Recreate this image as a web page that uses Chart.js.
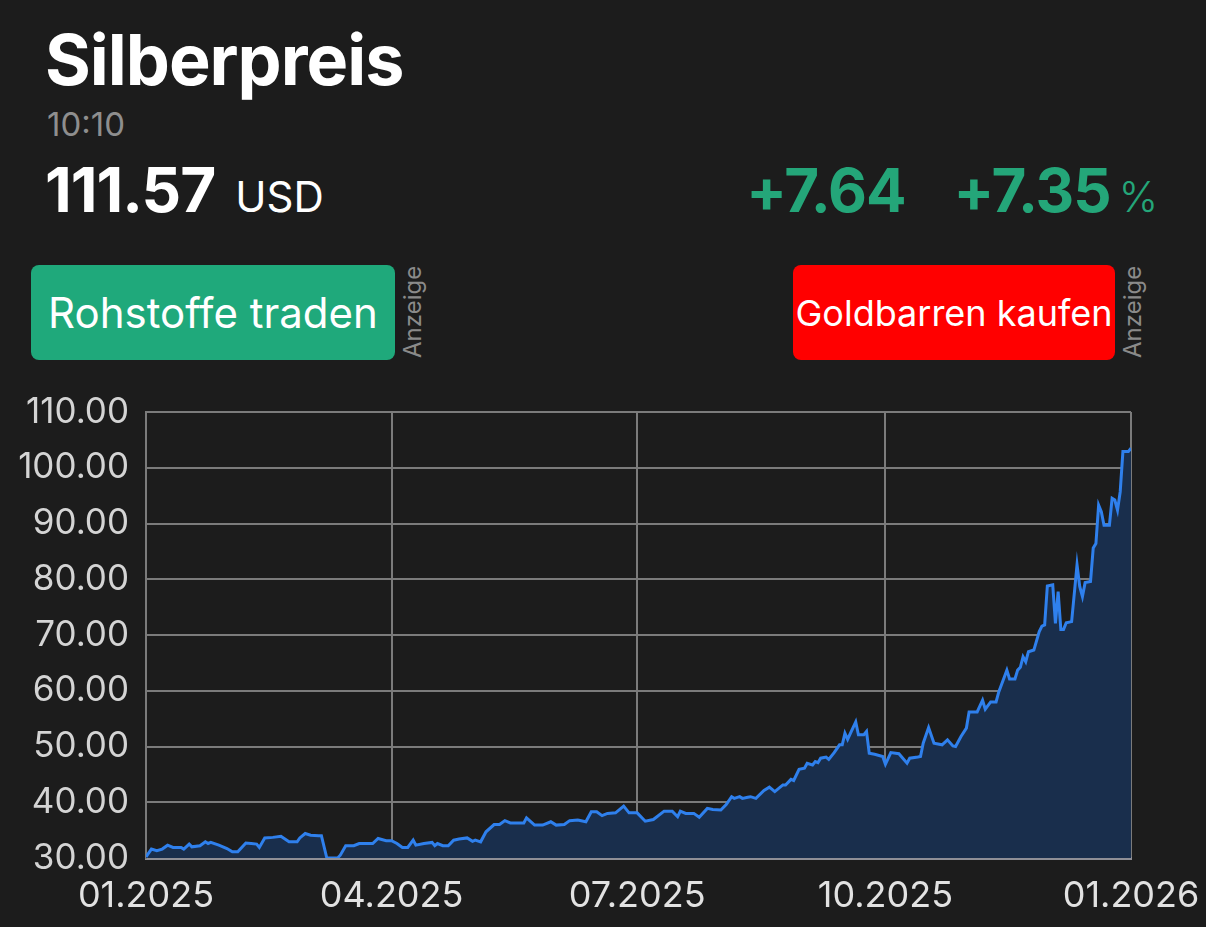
<!DOCTYPE html>
<html>
<head>
<meta charset="utf-8">
<script src="https://cdn.jsdelivr.net/npm/chart.js@4.4.1/dist/chart.umd.min.js"></script>
<style>
    body {
        margin: 0;
        width: 1206px;
        height: 927px;
        overflow: hidden;
        background: #1c1c1c;
        font-family: Inter, "Noto Sans", sans-serif;
        color: #fff;
        position: relative;
    }
    .abs { position: absolute; line-height: 1; white-space: nowrap; }
    #title { left: 45px; top: 25px; font-size: 70px; font-weight: 700; letter-spacing: -1px; }
    #time { left: 47px; top: 108px; font-size: 33px; color: #8e8e8e; }
    #price { left: 45px; top: 159px; font-size: 62px; font-weight: 700; letter-spacing: -1px; }
    #price .unit { font-size: 42px; font-weight: 400; margin-left: 20px; letter-spacing: 0; }
    #change { right: 48px; top: 160px; font-size: 60px; font-weight: 700; color: #24a679; letter-spacing: -1px; }
    #change .pct { font-size: 42px; font-weight: 300; margin-left: 8px; letter-spacing: 0; }
    #change .gap { margin-left: 48px; }
    .btn {
        position: absolute;
        top: 265px;
        height: 95px;
        border-radius: 8px;
        display: flex;
        align-items: center;
        justify-content: center;
        color: #fff;
        white-space: nowrap;
    }
    #btnTrade { left: 31px; width: 364px; background: #1fa97b; font-size: 42px; }
    #btnGold { left: 793px; width: 322px; background: #ff0000; font-size: 36px; }
    .ad {
        position: absolute;
        top: 262px;
        height: 96px;
        writing-mode: vertical-rl;
        transform: rotate(180deg);
        font-size: 24px;
        color: #8a8a8a;
        text-align: left;
    }
    #chartBox { position: absolute; left: 0; top: 380px; width: 1206px; height: 547px; }
</style>
</head>
<body>
<div id="title" class="abs">Silberpreis</div>
<div id="time" class="abs">10:10</div>
<div id="price" class="abs">111.57<span class="unit">USD</span></div>
<div id="change" class="abs">+7.64<span class="gap">+7.35</span><span class="pct">%</span></div>
<div id="btnTrade" class="btn">Rohstoffe traden</div>
<div class="ad" style="left:398px;">Anzeige</div>
<div id="btnGold" class="btn">Goldbarren kaufen</div>
<div class="ad" style="left:1118px;">Anzeige</div>
<div id="chartBox"><canvas id="silverChart" width="1206" height="547"></canvas></div>

<script>
// Day offsets from 01.01.2025 and silver price in USD
const days = [0, 2, 4, 6, 8, 10, 13, 14, 16, 17, 20, 22, 23, 24, 27, 30, 32, 34, 37, 39,
    41, 42, 44, 47, 50, 53, 56, 57, 59, 61, 64, 65, 67, 69, 71, 72, 74, 77, 79, 84,
    86, 89, 91, 93, 95, 97, 99, 100, 103, 106, 107, 108, 110, 112, 114, 116, 119, 121, 122, 124,
    126, 129, 131, 133, 135, 140, 141, 144, 147, 150, 152, 155, 157, 160, 163, 165, 167, 169, 171, 174,
    177, 179, 182, 185, 188, 192, 195, 197, 198, 200, 203, 205, 208, 210, 213, 215, 217, 218, 220, 221,
    223, 224, 226, 229, 231, 233, 236, 237, 239, 240, 242, 244, 245, 247, 248, 249, 250, 252, 253, 255,
    257, 258, 259, 260, 263, 264, 266, 267, 268, 270, 273, 274, 276, 279, 282, 283, 286, 287, 288, 290,
    292, 295, 297, 299, 300, 302, 304, 305, 308, 310, 311, 313, 315, 316, 319, 320, 322, 323, 324, 325,
    326, 327, 329, 331, 332, 333, 334, 336, 337, 338, 339, 340, 341, 343, 345, 346, 347, 348, 350, 351,
    352, 353, 354, 355, 357, 358, 359, 360, 361, 362, 364, 365];
const prices = [30.2, 31.6, 31.3, 31.6, 32.3, 31.9, 31.9, 31.6, 32.5, 32.0, 32.2, 32.9, 32.6, 32.8, 32.3, 31.7, 31.1, 31.1, 32.7, 32.6,
    32.5, 31.9, 33.6, 33.7, 33.9, 32.9, 32.9, 33.6, 34.4, 34.1, 34.0, 34.0, 30.0, 30.0, 30.0, 30.5, 32.2, 32.2, 32.6, 32.6,
    33.5, 33.1, 33.1, 32.6, 31.9, 31.9, 33.2, 32.3, 32.6, 32.8, 32.2, 32.6, 32.2, 32.2, 33.2, 33.4, 33.6, 33.0, 33.2, 32.9,
    34.7, 36.0, 36.0, 36.7, 36.3, 36.3, 37.2, 35.9, 35.9, 36.5, 35.9, 36.0, 36.7, 36.8, 36.5, 38.3, 38.3, 37.6, 38.0, 38.1,
    39.3, 38.1, 38.1, 36.6, 36.9, 38.4, 38.4, 37.4, 38.4, 38.0, 38.0, 37.3, 38.9, 38.7, 38.6, 39.6, 41.0, 40.7, 41.0, 40.7,
    40.9, 41.0, 40.7, 42.1, 42.7, 41.9, 43.1, 43.1, 44.1, 43.9, 45.9, 46.1, 47.0, 46.7, 47.3, 47.1, 47.9, 48.1, 47.7, 48.9,
    50.3, 50.3, 52.4, 51.3, 54.4, 52.1, 52.1, 52.7, 48.8, 48.6, 48.2, 46.8, 48.9, 48.7, 47.0, 47.9, 48.1, 48.2, 50.6, 53.4,
    50.6, 50.3, 51.2, 50.1, 50.0, 51.8, 53.3, 56.2, 56.2, 58.3, 56.7, 58.0, 58.0, 59.8, 63.7, 62.1, 62.1, 63.7, 64.2, 66.1,
    65.2, 67.0, 67.3, 70.6, 71.6, 71.8, 78.8, 79.0, 72.1, 77.8, 71.0, 71.0, 72.2, 72.4, 82.6, 78.7, 76.9, 79.4, 79.6, 85.6,
    86.4, 93.3, 92.1, 89.7, 89.7, 94.5, 94.2, 92.4, 95.7, 102.9, 102.9, 103.5];

const tickDays = [0, 91, 182, 274, 365];
const tickLabels = ["01.2025", "04.2025", "07.2025", "10.2025", "01.2026"];

const gridColor = "#7b7b7b";
const labelFont = "Inter, 'Noto Sans', sans-serif";

const ctx = document.getElementById("silverChart").getContext("2d");
new Chart(ctx, {
    type: "line",
    data: {
        datasets: [{
            data: days.map((d, i) => ({ x: d, y: prices[i] })),
            borderColor: "#2f80ed",
            borderWidth: 3,
            backgroundColor: "#192e4c",
            fill: "start",
            pointRadius: 0,
            tension: 0
        }]
    },
    options: {
        responsive: false,
        animation: false,
        layout: { padding: { top: 32, right: 75, left: 0, bottom: 0 } },
        plugins: {
            legend: { display: false },
            tooltip: { enabled: false }
        },
        scales: {
            x: {
                type: "linear",
                min: 0,
                max: 365,
                afterBuildTicks: scale => {
                    scale.ticks = tickDays.map(v => ({ value: v }));
                },
                afterFit: scale => {
                    scale.height = 69;
                    // edge labels may hang over; keep the plot width fixed
                    scale.paddingLeft = 0;
                    scale.paddingRight = 0;
                },
                ticks: {
                    autoSkip: false,
                    maxRotation: 0,
                    padding: 17,
                    color: "#e2e2e2",
                    font: { family: labelFont, size: 36 },
                    callback: (value, index) => tickLabels[index]
                },
                grid: { color: gridColor, lineWidth: 2, drawTicks: false },
                border: { color: "#8f8f96", width: 3 }
            },
            y: {
                min: 30,
                max: 110,
                afterFit: scale => {
                    scale.width = 146;
                    scale.paddingTop = 0;
                    scale.paddingBottom = 0;
                },
                ticks: {
                    stepSize: 10,
                    padding: 17,
                    color: "#d4d4d4",
                    font: { family: labelFont, size: 35 },
                    callback: value => value.toFixed(2)
                },
                grid: { color: gridColor, lineWidth: 2, drawTicks: false },
                border: { color: gridColor, width: 2 }
            }
        }
    }
});
</script>
</body>
</html>
